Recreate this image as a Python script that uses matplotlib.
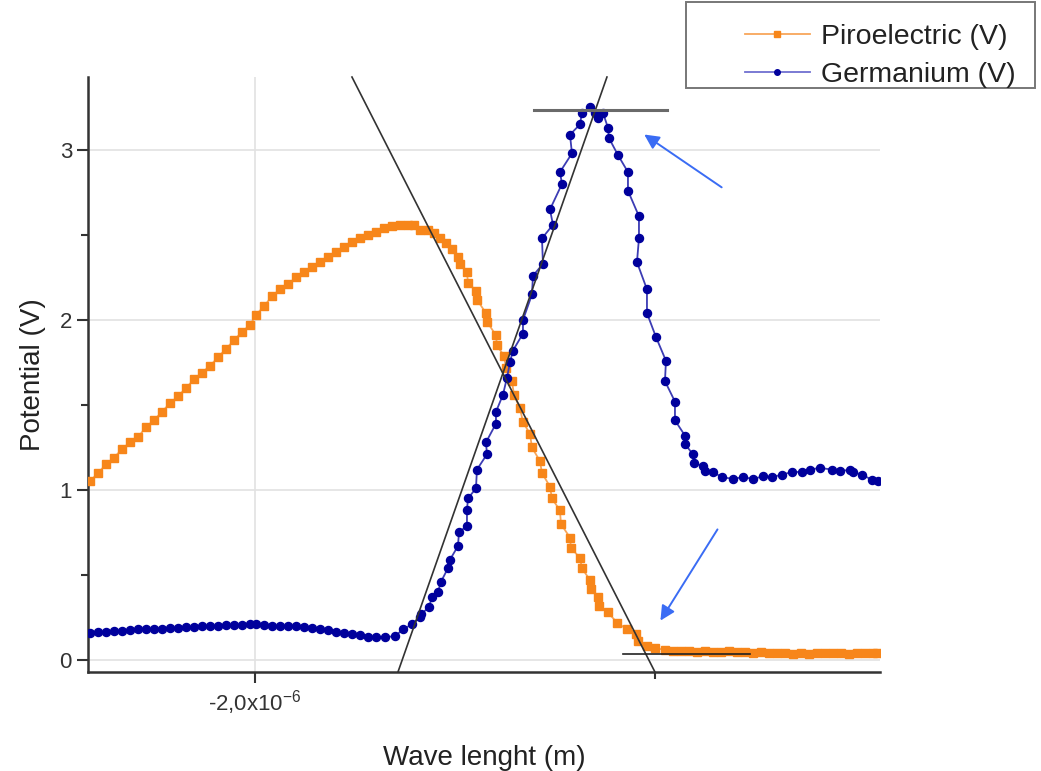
import numpy as np
import matplotlib
matplotlib.use("Agg")
import matplotlib.pyplot as plt
from matplotlib.patches import Rectangle

plt.rcParams['font.family'] = ['Liberation Sans', 'DejaVu Sans']
plt.rcParams['axes.unicode_minus'] = False

# wavelength in micrometres (plotted in metres), potential in volts
piro_wl = [-2.4125, -2.3925, -2.3725, -2.3525, -2.3325, -2.3125, -2.2925, -2.2725, -2.2525, -2.2325,
           -2.2125, -2.1925, -2.1725, -2.1525, -2.1325, -2.1125, -2.0925, -2.0725, -2.0525, -2.0325,
           -2.0125, -1.9975, -1.9775, -1.9575, -1.9375, -1.9175, -1.8975, -1.8775, -1.8575, -1.8375,
           -1.8175, -1.7975, -1.7775, -1.7575, -1.7375, -1.7175, -1.6975, -1.6775, -1.6575, -1.6375,
           -1.6175, -1.6025, -1.5875, -1.5675, -1.5525, -1.5375, -1.5225, -1.5075, -1.4925, -1.4875,
           -1.47, -1.4675, -1.4475, -1.445, -1.4225, -1.42, -1.3975, -1.395, -1.3775, -1.3725,
           -1.3575, -1.3525, -1.3375, -1.33, -1.3125, -1.3075, -1.2875, -1.2825, -1.2625, -1.2575,
           -1.2375, -1.235, -1.2125, -1.21, -1.1875, -1.1825, -1.1625, -1.16, -1.1425, -1.14,
           -1.1175, -1.095, -1.07, -1.0475, -1.0425, -1.02, -1.0, -0.975, -0.955, -0.935,
           -0.915, -0.895, -0.875, -0.855, -0.835, -0.815, -0.795, -0.775, -0.755, -0.735,
           -0.715, -0.695, -0.675, -0.655, -0.635, -0.615, -0.595, -0.575, -0.555, -0.535,
           -0.515, -0.495, -0.475, -0.455, -0.445]
piro_v = [1.05, 1.10, 1.15, 1.19, 1.24, 1.28, 1.31, 1.37, 1.41, 1.46,
          1.51, 1.55, 1.60, 1.65, 1.69, 1.73, 1.78, 1.83, 1.88, 1.93,
          1.97, 2.03, 2.08, 2.14, 2.18, 2.21, 2.25, 2.28, 2.31, 2.34,
          2.37, 2.40, 2.43, 2.46, 2.48, 2.50, 2.52, 2.54, 2.55, 2.56,
          2.56, 2.56, 2.53, 2.53, 2.51, 2.48, 2.45, 2.42, 2.37, 2.33,
          2.28, 2.22, 2.17, 2.12, 2.04, 1.99, 1.91, 1.85, 1.79, 1.72,
          1.64, 1.56, 1.48, 1.40, 1.33, 1.25, 1.17, 1.10, 1.02, 0.95,
          0.88, 0.80, 0.72, 0.66, 0.60, 0.54, 0.47, 0.42, 0.37, 0.32,
          0.28, 0.22, 0.18, 0.15, 0.11, 0.08, 0.07, 0.06, 0.055, 0.05,
          0.05, 0.045, 0.05, 0.045, 0.045, 0.05, 0.045, 0.045, 0.04, 0.045,
          0.04, 0.04, 0.04, 0.035, 0.04, 0.035, 0.04, 0.04, 0.04, 0.04,
          0.035, 0.04, 0.04, 0.04, 0.04]

germ_wl = [-2.4125, -2.3925, -2.3725, -2.3525, -2.3325, -2.3125, -2.2925, -2.2725, -2.2525, -2.2325,
           -2.2125, -2.1925, -2.1725, -2.1525, -2.1325, -2.1125, -2.0925, -2.0725, -2.0525, -2.0325,
           -2.0125, -1.9975, -1.9775, -1.9575, -1.9375, -1.9175, -1.8975, -1.8775, -1.8575, -1.8375,
           -1.8175, -1.7975, -1.7775, -1.7575, -1.7375, -1.7175, -1.6975, -1.675, -1.65, -1.63,
           -1.6075, -1.5875, -1.585, -1.565, -1.5575, -1.5425, -1.535, -1.5175, -1.5125, -1.4925,
           -1.49, -1.47, -1.47, -1.4675, -1.4475, -1.445, -1.42, -1.4225, -1.3975, -1.3975,
           -1.38, -1.37, -1.3625, -1.355, -1.33, -1.33, -1.3075, -1.305, -1.28, -1.2825,
           -1.255, -1.2625, -1.2325, -1.2375, -1.2075, -1.2125, -1.1875, -1.1825, -1.1625, -1.15,
           -1.1425, -1.13, -1.1175, -1.115, -1.0925, -1.0675, -1.0675, -1.04, -1.04, -1.045,
           -1.02, -1.02, -0.9975, -0.9725, -0.975, -0.95, -0.95, -0.925, -0.925, -0.905,
           -0.9025, -0.88, -0.875, -0.855, -0.8325, -0.805, -0.78, -0.755, -0.73, -0.7075,
           -0.6825, -0.6575, -0.6325, -0.6125, -0.5875, -0.5575, -0.5375, -0.5125, -0.505, -0.4825,
           -0.4575, -0.4425]
germ_v = [0.16, 0.165, 0.165, 0.17, 0.17, 0.175, 0.18, 0.18, 0.185, 0.185,
          0.19, 0.19, 0.195, 0.195, 0.20, 0.20, 0.20, 0.205, 0.205, 0.205,
          0.21, 0.21, 0.205, 0.20, 0.20, 0.20, 0.20, 0.195, 0.19, 0.18,
          0.175, 0.165, 0.16, 0.15, 0.145, 0.135, 0.135, 0.135, 0.14, 0.18,
          0.21, 0.25, 0.27, 0.31, 0.37, 0.40, 0.46, 0.54, 0.59, 0.67,
          0.75, 0.79, 0.88, 0.95, 1.01, 1.12, 1.21, 1.28, 1.39, 1.46,
          1.56, 1.66, 1.75, 1.82, 1.92, 2.00, 2.15, 2.26, 2.33, 2.48,
          2.56, 2.65, 2.80, 2.87, 2.98, 3.09, 3.15, 3.22, 3.25, 3.22,
          3.19, 3.22, 3.13, 3.07, 2.97, 2.87, 2.76, 2.61, 2.48, 2.34,
          2.18, 2.04, 1.90, 1.76, 1.64, 1.52, 1.41, 1.32, 1.27, 1.21,
          1.16, 1.14, 1.11, 1.105, 1.076, 1.065, 1.076, 1.065, 1.08, 1.076,
          1.09, 1.106, 1.106, 1.12, 1.13, 1.12, 1.11, 1.12, 1.106, 1.09,
          1.06, 1.05]

# construction lines (tangents) drawn on the chart, in (um, V)
fall_line_wl = [-1.7575, -1.0]
fall_line_v = [3.429, -0.0706]
rise_line_wl = [-1.6425, -1.12]
rise_line_v = [-0.0706, 3.429]
top_line_wl = [-1.3025, -0.97]
top_line_v = [3.235, 3.235]
base_line_wl = [-1.08, -0.7625]
base_line_v = [0.035, 0.035]

um = 1e-6

fig = plt.figure(figsize=(10.41, 7.71), dpi=100)
ax = fig.add_axes([0.0845, 0.1284, 0.7608, 0.7717])

grid_c = '#e2e2e2'
for yv in [0, 1, 2, 3]:
    ax.axhline(yv, color=grid_c, lw=1.2, zorder=0)
ax.axvline(-2.0 * um, color=grid_c, lw=1.2, zorder=0)

ax.plot(np.array(piro_wl) * um, piro_v, color='#f8a65a', lw=1.3, marker='s',
        ms=5.6, mfc='#f7861a', mec='#f7861a', zorder=3)
ax.plot(np.array(germ_wl) * um, germ_v, color='#3c3cb4', lw=1.3, marker='o',
        ms=5.8, mfc='#00009c', mec='#00009c', zorder=4)

ax.plot(np.array(fall_line_wl) * um, fall_line_v, color='#333333', lw=1.2, zorder=5, clip_on=False)
ax.plot(np.array(rise_line_wl) * um, rise_line_v, color='#333333', lw=1.2, zorder=5, clip_on=False)
ax.plot(np.array(top_line_wl) * um, top_line_v, color='#6a6a6a', lw=2.2, zorder=5)
ax.plot(np.array(base_line_wl) * um, base_line_v, color='#222222', lw=1.2, zorder=5)

arrow_c = '#3a6cf4'
ax.annotate('', xy=(-1.0325 * um, 3.10), xytext=(-0.8275 * um, 2.771),
            arrowprops=dict(arrowstyle='-|>', color=arrow_c, lw=1.4, mutation_scale=22))
ax.annotate('', xy=(-0.99 * um, 0.218), xytext=(-0.84 * um, 0.782),
            arrowprops=dict(arrowstyle='-|>', color=arrow_c, lw=1.4, mutation_scale=22))

ax.set_xlim(-2.4175 * um, -0.4375 * um)
ax.set_ylim(-0.0706, 3.429)

for s in ['top', 'right']:
    ax.spines[s].set_visible(False)
for s in ['left', 'bottom']:
    ax.spines[s].set_color('#333333')
    ax.spines[s].set_linewidth(1.8)

ax.set_yticks([0, 1, 2, 3])
ax.set_yticks([0.5, 1.5, 2.5], minor=True)
ax.set_xticks([-2.0 * um])
ax.set_xticklabels(['-2,0x10$^{\\mathregular{-6}}$'])
ax.set_xticks([-1.0 * um], minor=True)
ax.tick_params(axis='both', which='major', direction='out', length=8, width=1.5,
               color='#333333', labelsize=16, labelcolor='#333333')
ax.tick_params(axis='both', which='minor', direction='out', length=5, width=1.5, color='#333333')

ax.set_ylabel('Potential (V)', fontsize=20, color='#222222', labelpad=10)
ax.set_xlabel('Wave lenght (m)', fontsize=20, color='#222222', labelpad=20)

# legend box sits at the top right, partly outside the axes
fig.patches.append(Rectangle((686 / 1041, 1 - 88 / 771), 349 / 1041, 86 / 771,
                             transform=fig.transFigure, fill=False,
                             edgecolor='#777777', lw=1.4))
handles = [
    plt.Line2D([], [], color='#f8a65a', lw=1.3, marker='s', ms=4, mfc='#f7861a', mec='#f7861a'),
    plt.Line2D([], [], color='#7070d0', lw=1.3, marker='o', ms=4, mfc='#00009c', mec='#00009c'),
]
fig.legend(handles, ['Piroelectric (V)', 'Germanium (V)'], loc='upper right',
           bbox_to_anchor=(1016 / 1041, 1 - 24 / 771), frameon=False, fontsize=20.5,
           handlelength=2.3, handletextpad=0.4, labelspacing=0.42, borderpad=0,
           borderaxespad=0, labelcolor='#222222')

fig.savefig('out.png', dpi=100)
